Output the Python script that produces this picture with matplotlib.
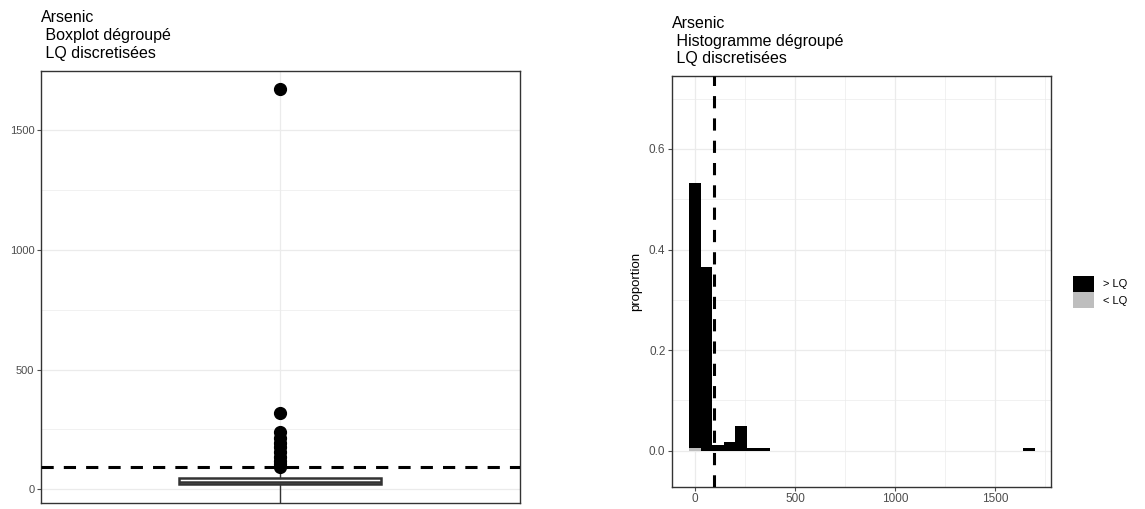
import numpy as np
import matplotlib
matplotlib.use('Agg')
import matplotlib.pyplot as plt
from matplotlib.patches import Patch

plt.rcParams['font.family'] = ['Liberation Sans', 'DejaVu Sans']

# limite de quantification
lq = 93

# boxplot (statistiques)
q1, med, q3 = 22, 30, 47
whis_lo, whis_hi = -60, 90
outliers = [1670, 320, 240, 215, 195, 175, 155, 135, 120, 105, 95]

# histogramme : centres des classes et proportions
bin_width = 57.6
bin_centres = [0, 57.6, 115.2, 172.8, 230.3, 287.9, 345.5, 1670]
prop_sup = [0.528, 0.366, 0.012, 0.018, 0.049, 0.005, 0.005, 0.005]
prop_inf = [0.005, 0, 0, 0, 0, 0, 0, 0]

grid_col = '#EBEBEB'
border_col = '#333333'
tick_col = '#4D4D4D'

fig = plt.figure(figsize=(11.45, 5.09), dpi=100)

ax1 = fig.add_axes([0.0358, 0.0118, 0.4183, 0.8493])
ax2 = fig.add_axes([0.5869, 0.0438, 0.3307, 0.8069])

for ax in (ax1, ax2):
    for s in ax.spines.values():
        s.set_color(border_col)
        s.set_linewidth(1.0)
    ax.set_axisbelow(True)
    ax.tick_params(colors=tick_col, length=2.7, width=0.8, pad=2)
    ax.tick_params(which='minor', length=0)

# ---- boxplot ----
stats = [dict(med=med, q1=q1, q3=q3, whislo=whis_lo, whishi=whis_hi, fliers=outliers)]
ax1.bxp(stats, positions=[0], widths=0.506, showcaps=False, patch_artist=True,
        boxprops=dict(facecolor='white', edgecolor=border_col, linewidth=1.8),
        medianprops=dict(color=border_col, linewidth=1.8),
        whiskerprops=dict(color=border_col, linewidth=1.0),
        flierprops=dict(marker='o', markerfacecolor='black', markeredgecolor='black',
                        markersize=8.5))
ax1.axhline(lq, color='black', lw=2.2, dashes=(4, 3.3), zorder=3)
ax1.set_xlim(-0.6, 0.6)
ax1.set_ylim(-57, 1748)
ax1.set_xticks([0])
ax1.set_xticklabels([])
ax1.tick_params(axis='x', length=0)
ax1.set_yticks([0, 500, 1000, 1500])
ax1.set_yticks([250, 750, 1250], minor=True)
ax1.tick_params(axis='y', labelsize=8)
ax1.grid(True, which='major', color=grid_col, lw=0.9)
ax1.grid(True, which='minor', axis='y', color=grid_col, lw=0.5)
ax1.set_title('Arsenic\n Boxplot dégroupé\n LQ discretisées', loc='left',
              fontsize=11.5, linespacing=1.24, pad=9)

# ---- histogramme ----
ax2.bar(bin_centres, prop_inf, width=bin_width, color='#BEBEBE', lw=0)
ax2.bar(bin_centres, prop_sup, width=bin_width, bottom=prop_inf, color='black', lw=0)
ax2.axvline(lq, color='black', lw=2.2, dashes=(4, 3.3), zorder=3)
ax2.set_xlim(-115, 1778)
ax2.set_ylim(-0.0715, 0.745)
ax2.set_xticks([0, 500, 1000, 1500])
ax2.set_xticks([250, 750, 1250, 1750], minor=True)
ax2.set_yticks([0, 0.2, 0.4, 0.6])
ax2.set_yticklabels(['0.0', '0.2', '0.4', '0.6'])
ax2.set_yticks([0.1, 0.3, 0.5, 0.7], minor=True)
ax2.tick_params(labelsize=8.5)
ax2.grid(True, which='major', color=grid_col, lw=0.9)
ax2.grid(True, which='minor', color=grid_col, lw=0.5)
ax2.set_ylabel('proportion', fontsize=9.5, labelpad=5)
ax2.set_title('Arsenic\n Histogramme dégroupé\n LQ discretisées', loc='left',
              fontsize=11.5, linespacing=1.24, pad=9)

handles = [Patch(facecolor='black', edgecolor='none'),
           Patch(facecolor='#BEBEBE', edgecolor='none')]
fig.legend(handles, ['> LQ', '< LQ'], loc='center left',
           bbox_to_anchor=(1073 / 1145, 1 - 292 / 509), frameon=False,
           fontsize=8, handlelength=1.9, handleheight=1.9, labelspacing=0,
           handletextpad=0.8, borderpad=0, borderaxespad=0)

fig.savefig('out.png', dpi=100)
